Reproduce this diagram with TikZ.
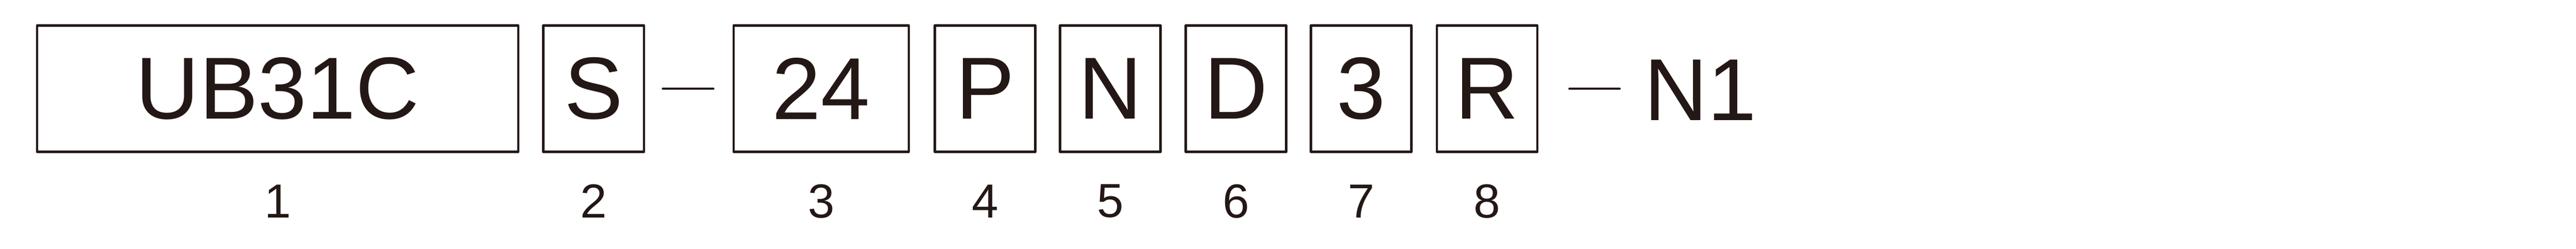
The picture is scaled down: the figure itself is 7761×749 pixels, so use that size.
\documentclass[tikz,border=0pt]{standalone}
\usepackage{fontspec}
\setmainfont{Liberation Sans}
\definecolor{ink}{RGB}{35,24,21}
\begin{document}
\begin{tikzpicture}[x=0.1pt,y=-0.1pt,
  codebox/.style={draw=ink, line width=0.7pt, line join=round, minimum height=38pt, inner sep=0pt,
    text=ink, font=\fontsize{26.5pt}{30pt}\selectfont},
  smallbox/.style={codebox, minimum width=30.3pt},
  numlabel/.style={text=ink, inner sep=0pt, font=\fontsize{14.4pt}{16pt}\selectfont},
  sepline/.style={draw=ink, line width=0.7pt, line cap=round}]
\useasboundingbox (0,0) rectangle (7761,749);
% code boxes
\node[codebox, minimum width=145pt] (b1) at (836.5,267) {UB31C};
\node[smallbox, minimum width=30.4pt] (b2) at (1788.5,267) {S};
\node[codebox, minimum width=52.8pt] (b3) at (2474,267) {24};
\node[smallbox] (b4) at (2968,267) {P};
\node[smallbox] (b5) at (3345,267) {N};
\node[smallbox] (b6) at (3723.5,267) {D};
\node[smallbox] (b7) at (4101,267) {3};
\node[smallbox] (b8) at (4480.5,267) {R};
% suffix
\node[text=ink, inner sep=0pt, anchor=west, font=\fontsize{26.5pt}{30pt}\selectfont] (n1) at (4952,272) {N1};
% separators
\draw[sepline, shorten <=5.3pt, shorten >=5.75pt] (b2.east) -- (b3.west);
\draw[sepline, shorten <=9.3pt, shorten >=7.25pt] (b8.east) -- (b8.east -| n1.west);
% position numbers
\node[numlabel] (l1) at (836.5,606) {1};
\node[numlabel] (l2) at (1788.5,606) {2};
\node[numlabel] (l3) at (2474,606) {3};
\node[numlabel] (l4) at (2968,606) {4};
\node[numlabel] (l5) at (3345,606) {5};
\node[numlabel] (l6) at (3723.5,606) {6};
\node[numlabel] (l7) at (4101,606) {7};
\node[numlabel] (l8) at (4480.5,606) {8};
\end{tikzpicture}
\end{document}
